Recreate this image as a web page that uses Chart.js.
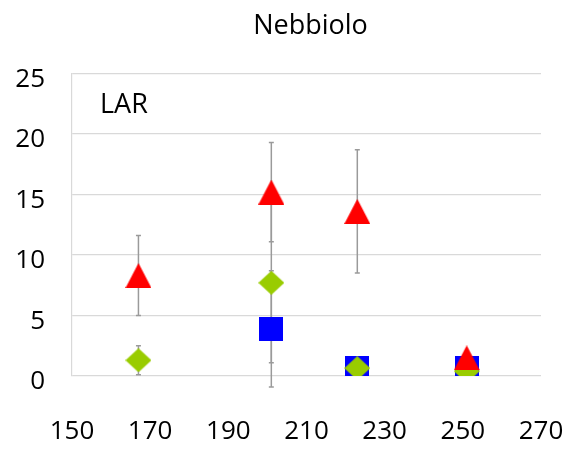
<!DOCTYPE html>
<html>
<head>
<meta charset="utf-8">
<script src="https://cdn.jsdelivr.net/npm/chart.js@4/dist/chart.umd.min.js"></script>
<style>
  html, body { margin: 0; padding: 0; background: #ffffff; }
  #wrap { width: 576px; height: 450px; }
</style>
</head>
<body>
<div id="wrap"><canvas id="c" width="576" height="450"></canvas></div>
<script>
// ---- data ----
const titleText = 'Nebbiolo';
const panelLabel = 'LAR';
const xValues = [167, 201, 223, 251];
const triangleValues = [8.3, 15.2, 13.6, 1.5];
const triangleErrors = [3.3, 4.1, 5.1, 0.4];
const diamondValues = [1.3, 7.7, 0.65, 0.4];
const diamondErrors = [1.2, 6.6, 0, 0];
const squareValues = [null, 3.9, 0.7, 0.7];
const squareErrors = [0, 4.8, 0, 0];
const xTicks = [150, 170, 190, 210, 230, 250, 270];
const yTicks = [0, 5, 10, 15, 20, 25];

// ---- marker images (centred on their bounding box) ----
function markerCanvas(w, h, color, kind) {
  const cv = document.createElement('canvas');
  cv.width = w; cv.height = h;
  const g = cv.getContext('2d');
  g.fillStyle = color;
  g.beginPath();
  if (kind === 'triangle') {
    g.moveTo(w / 2, 0); g.lineTo(w, h); g.lineTo(0, h);
  } else if (kind === 'diamond') {
    g.moveTo(w / 2, 0); g.lineTo(w, h / 2); g.lineTo(w / 2, h); g.lineTo(0, h / 2);
  } else {
    g.rect(0, 0, w, h);
  }
  g.closePath();
  g.fill();
  return cv;
}
const triImg = markerCanvas(26, 25, '#ff0000', 'triangle');
const diaImg = markerCanvas(26, 24, '#99cc00', 'diamond');
const sqImg = markerCanvas(24, 24, '#0000ff', 'square');

function pts(vals) {
  return xValues.map((x, i) => ({ x: x, y: vals[i] })).filter(p => p.y !== null);
}
function errs(vals, e) {
  return xValues.map((x, i) => (vals[i] === null ? null : e[i])).filter(v => v !== null);
}

const errorBarPlugin = {
  id: 'errorBars',
  beforeDatasetsDraw(chart) {
    const ctx = chart.ctx;
    const xs = chart.scales.x, ys = chart.scales.y;
    ctx.save();
    ctx.strokeStyle = '#9a9a9a';
    ctx.lineWidth = 1.5;
    chart.data.datasets.forEach(ds => {
      ds.data.forEach((p, i) => {
        const e = ds.errors[i];
        if (!e) return;
        const px = xs.getPixelForValue(p.x);
        const top = ys.getPixelForValue(p.y + e);
        const bot = ys.getPixelForValue(p.y - e);
        ctx.beginPath();
        ctx.moveTo(px, top); ctx.lineTo(px, bot);
        ctx.moveTo(px - 2.5, top); ctx.lineTo(px + 2.5, top);
        ctx.moveTo(px - 2.5, bot); ctx.lineTo(px + 2.5, bot);
        ctx.stroke();
      });
    });
    ctx.restore();
  }
};

const labelPlugin = {
  id: 'panelLabel',
  afterLayout(chart) {
    // centre the title over the plot area
    if (chart.titleBlock) {
      chart.titleBlock.left = chart.chartArea.left + 4;
      chart.titleBlock.right = chart.chartArea.right + 4;
    }
  },
  afterDraw(chart) {
    const ctx = chart.ctx;
    ctx.save();
    ctx.font = '27px "Open Sans"';
    ctx.fillStyle = '#000000';
    ctx.textAlign = 'left';
    ctx.textBaseline = 'middle';
    ctx.fillText(panelLabel, chart.chartArea.left + 28, chart.chartArea.top + 32);
    ctx.restore();
  }
};

new Chart(document.getElementById('c'), {
  type: 'scatter',
  data: {
    datasets: [
      { label: 'triangle', data: pts(triangleValues), errors: errs(triangleValues, triangleErrors), pointStyle: triImg, pointRadius: 13 },
      { label: 'diamond', data: pts(diamondValues), errors: errs(diamondValues, diamondErrors), pointStyle: diaImg, pointRadius: 13 },
      { label: 'square', data: pts(squareValues), errors: errs(squareValues, squareErrors), pointStyle: sqImg, pointRadius: 12 }
    ]
  },
  plugins: [errorBarPlugin, labelPlugin],
  options: {
    responsive: false,
    animation: false,
    events: [],
    layout: { padding: { left: 0, right: 35, top: 0, bottom: 0 } },
    plugins: {
      legend: { display: false },
      tooltip: { enabled: false },
      title: {
        display: true,
        text: titleText,
        color: '#000000',
        font: { family: '"Open Sans"', size: 27, weight: 'normal' },
        padding: { top: 10, bottom: 31 }
      }
    },
    scales: {
      x: {
        type: 'linear',
        min: 150, max: 270,
        afterBuildTicks(s) { s.ticks = xTicks.map(v => ({ value: v })); },
        grid: { display: false, drawTicks: false },
        border: { display: false },
        ticks: { color: '#000000', font: { family: '"Open Sans"', size: 26 }, padding: 40, maxRotation: 0, autoSkip: false },
        afterFit(s) { s.height = 74; s.paddingLeft = 0; s.paddingRight = 0; }
      },
      y: {
        type: 'linear',
        min: 0, max: 25,
        afterBuildTicks(s) { s.ticks = yTicks.map(v => ({ value: v })); },
        grid: { color: '#d9d9d9', lineWidth: 1.2, drawTicks: false },
        border: { display: true, color: '#d9d9d9', width: 1.2 },
        ticks: { color: '#000000', font: { family: '"Open Sans"', size: 26 }, padding: 27, labelOffset: 6 },
        afterFit(s) { s.width = 72; }
      }
    }
  }
});
</script>
</body>
</html>
